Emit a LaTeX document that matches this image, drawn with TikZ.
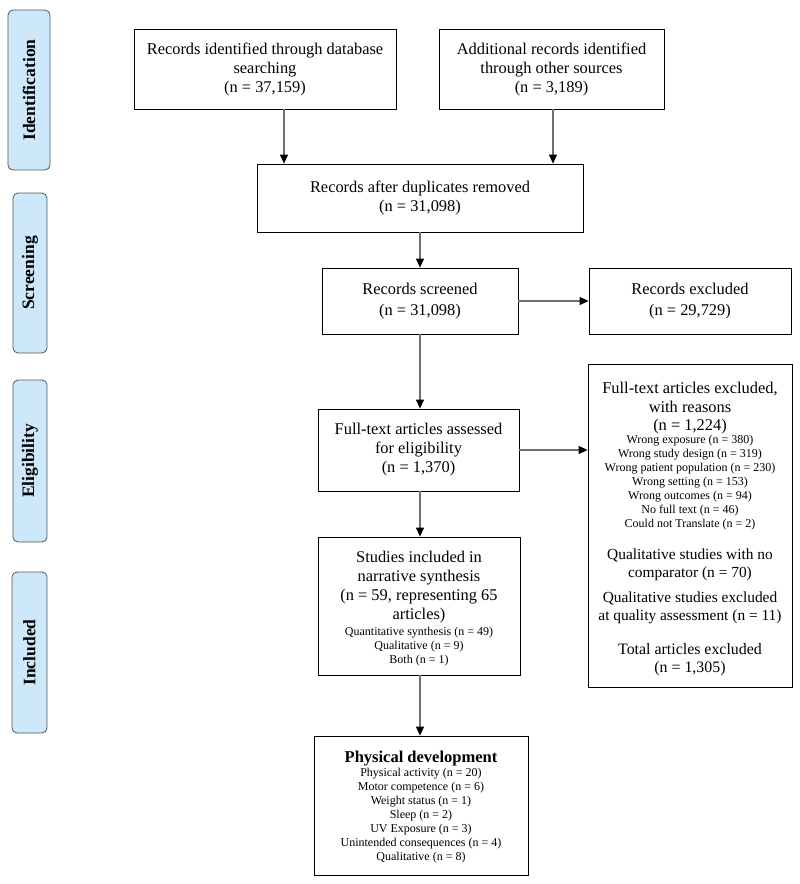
\documentclass[tikz,border=0pt]{standalone}
\usepackage{fontspec}
\setmainfont{Liberation Serif}
\usetikzlibrary{arrows.meta}
\definecolor{labfill}{HTML}{CCE8FA}
\definecolor{labdraw}{HTML}{555555}
\definecolor{arrgray}{HTML}{707070}
\begin{document}
\begin{tikzpicture}[x=1pt,y=-1pt,
  box/.style={draw=black, line width=0.8pt, inner sep=0pt, align=center, font=\fontsize{16.4}{19}\selectfont},
  lab/.style={draw=labdraw, fill=labfill, rounded corners=5pt, rotate=90, inner sep=0pt, font=\fontsize{17.5}{20}\selectfont\bfseries, line width=0.8pt},
  big/.style={inner sep=0pt, align=center, font=\fontsize{16.4}{18.5}\selectfont},
  mid/.style={inner sep=0pt, align=center, font=\fontsize{15.4}{18}\selectfont},
  small/.style={inner sep=0pt, align=center, font=\fontsize{12}{14}\selectfont},
  arr/.style={draw=arrgray, line width=1.1pt, -{Triangle[length=9pt,width=8pt,color=black]}}
]
\fill[white] (0,0) rectangle (800,884);
\useasboundingbox (0,0) rectangle (800,884);

% phase labels
\node[lab, minimum width=160pt, minimum height=42pt] (lid) at (29,90) {Identification};
\node[lab, minimum width=160pt, minimum height=34pt] (lsc) at (30,273) {Screening};
\node[lab, minimum width=162pt, minimum height=34pt] (lel) at (30,461) {Eligibility};
\node[lab, minimum width=161pt, minimum height=35pt] (lin) at (29.5,652.5) {Included};

% boxes
\node[box, minimum width=262pt, minimum height=80pt] (b1) at (265,69) {Records identified through database\\searching\\(n = 37,159)};
\node[box, minimum width=225pt, minimum height=80pt] (b2) at (551.5,69) {Additional records identified\\through other sources\\(n = 3,189)};
\node[box, minimum width=326pt, minimum height=68pt] (b3) at (420,198) {Records after duplicates removed\\(n = 31,098)};
\node[box, minimum width=196pt, minimum height=66pt, font=\fontsize{16.4}{20.5}\selectfont] (b4) at (420,301) {Records screened\\(n = 31,098)};
\node[box, minimum width=202pt, minimum height=66pt, font=\fontsize{16.4}{20.5}\selectfont] (b5) at (690,301) {Records excluded\\(n = 29,729)};
\node[box, minimum width=201pt, minimum height=82pt] (b6) at (418.5,450) {Full-text articles assessed\\for eligibility\\(n = 1,370)};
\node[box, minimum width=204pt, minimum height=323pt] (b7) at (690,525.5) {};
\node[box, minimum width=202pt, minimum height=138pt] (b8) at (419,606) {};
\node[box, minimum width=214pt, minimum height=139pt] (b9) at (421,805.5) {};

% texts in excluded box
\node[big] (t7a) at (690,408.5) {Full-text articles excluded,\\with reasons\\(n = 1,224)};
\node[small] (t7b) at (690,482.5) {Wrong exposure (n = 380)\\Wrong study design (n = 319)\\Wrong patient population (n = 230)\\Wrong setting (n = 153)\\Wrong outcomes (n = 94)\\No full text (n = 46)\\Could not Translate (n = 2)};
\node[mid] (t7c) at (690,564.5) {Qualitative studies with no\\comparator (n = 70)};
\node[mid] (t7d) at (690,607.5) {Qualitative studies excluded\\at quality assessment (n = 11)};
\node[mid, font=\fontsize{15.9}{18}\selectfont] (t7e) at (690,659.5) {Total articles excluded\\(n = 1,305)};

% texts in included box
\node[big, font=\fontsize{16.4}{19}\selectfont] (t8a) at (419,587.5) {Studies included in\\narrative synthesis\\(n = 59, representing 65\\articles)};
\node[small] (t8b) at (419,646.5) {Quantitative synthesis (n = 49)\\Qualitative (n = 9)\\Both (n = 1)};

% texts in physical development box
\node[big, font=\fontsize{16.5}{18}\selectfont\bfseries] (t9a) at (421,758.5) {Physical development};
\node[small] (t9b) at (421,815.5) {Physical activity (n = 20)\\Motor competence (n = 6)\\Weight status (n = 1)\\Sleep (n = 2)\\UV Exposure (n = 3)\\Unintended consequences (n = 4)\\Qualitative (n = 8)};

% connectors
\coordinate (xa) at (284,0);
\coordinate (xb) at (553,0);
\draw[arr] (b1.south -| xa) -- (b3.north -| xa);
\draw[arr] (b2.south -| xb) -- (b3.north -| xb);
\draw[arr] (b3.south) -- (b4.north);
\draw[arr] (b4.east) -- (b5.west);
\draw[arr] (b4.south) -- (b6.north -| b4.south);
\draw[arr] (b6.east) -- (b7.west |- b6.east);
\draw[arr] (b6.south -| b4.south) -- (b8.north -| b4.south);
\draw[arr] (b8.south -| b4.south) -- (b9.north -| b4.south);
\end{tikzpicture}
\end{document}
